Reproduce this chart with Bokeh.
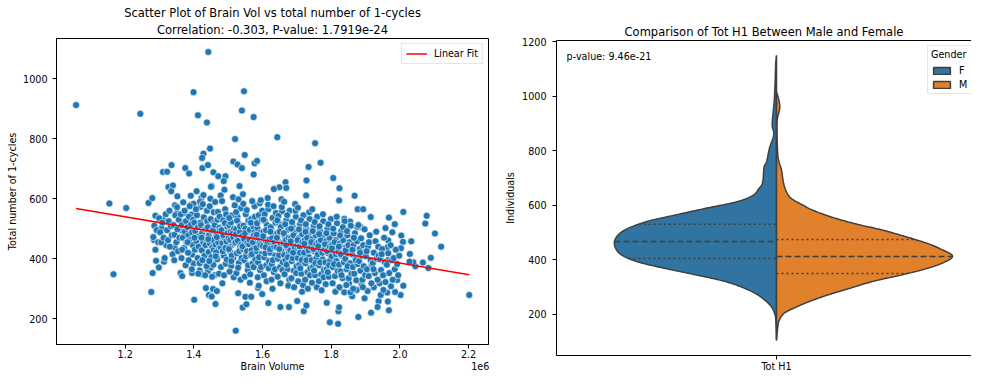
import numpy as np
from bokeh.plotting import figure
from bokeh.models import (Range1d, FixedTicker, CustomJSTickFormatter, Title, Legend,
                          LegendItem, Label, LinearAxis, ColumnDataSource)
from bokeh.layouts import row, column
from bokeh.embed import file_html
from bokeh.resources import INLINE

FONT = "DejaVu Sans"
TXT = "black"

# ---------------- scatter data (brain volume in units of 1e6, total number of 1-cycles) -------------
outlier_pts = [
    (1.442, 1089), (1.057, 912), (1.244, 883), (1.399, 955), (1.546, 958), (1.412, 878), (1.438, 854),
    (1.540, 894), (1.574, 872), (1.520, 799), (1.447, 767), (1.428, 750), (1.424, 736), (1.548, 746),
    (1.515, 724), (1.527, 714), (1.540, 702), (1.577, 718), (1.584, 726), (1.574, 681), (1.335, 712),
    (1.310, 689), (1.322, 690), (1.375, 702), (1.386, 684), (1.425, 702), (1.441, 712), (1.457, 688),
    (1.471, 675), (1.492, 675), (1.487, 659), (1.452, 642), (1.533, 642), (1.326, 639), (1.339, 644),
    (1.643, 805), (1.753, 785), (1.734, 706), (1.769, 720), (1.728, 661), (1.806, 669), (1.667, 655),
    (1.649, 638), (1.669, 636), (1.633, 632), (1.824, 635),
    (1.154, 584), (1.203, 569), (1.268, 586), (1.279, 602), (1.166, 348), (1.276, 289), (1.280, 352),
    (1.288, 543), (1.284, 462), (1.290, 393), (1.298, 371), (1.313, 390), (1.309, 462), (1.320, 445),
    (1.306, 502), (1.310, 530),
    (2.202, 279), (2.078, 543), (2.074, 517), (2.102, 484), (2.120, 440), (2.090, 403), (2.067, 387),
    (2.083, 369), (2.045, 375), (2.039, 388), (2.028, 390), (2.029, 416), (2.033, 458), (2.010, 556),
    (2.004, 477), (2.009, 456), (2.003, 435), (1.985, 515), (1.968, 537), (1.978, 488), (1.958, 502),
    (1.966, 461), (1.964, 438), (1.966, 395), (2.010, 310), (2.002, 279), (1.992, 329), (1.986, 289),
    (1.968, 228), (1.965, 257), (1.963, 287), (1.938, 258), (1.944, 279), (1.935, 239), (1.916, 220),
    (1.879, 206), (1.820, 183), (1.796, 188), (1.821, 225), (1.823, 238), (1.787, 253), (1.720, 225),
    (1.728, 244), (1.677, 239), (1.652, 239), (1.701, 259), (1.868, 610), (1.823, 594), (1.727, 611),
    (1.877, 565), (1.893, 565), (1.915, 539), (1.885, 506), (1.876, 506), (1.855, 524), (1.838, 533),
    (1.522, 160), (1.542, 237), (1.553, 248), (1.401, 263), (1.463, 249), (1.435, 302), (1.456, 299),
    (1.467, 292), (1.444, 279), (1.452, 274), (1.529, 285), (1.550, 273), (1.567, 273), (1.587, 303),
    (1.599, 282), (1.617, 252), (1.395, 352), (1.361, 352), (1.366, 342),
    (1.352, 608), (1.334, 625), (1.345, 578), (1.351, 553), (1.373, 553), (1.393, 547), (1.391, 580),
    (1.399, 583), (1.422, 602), (1.420, 573), (1.344, 437), (1.372, 435), (1.370, 477), (1.384, 453),
    (1.398, 472), (1.395, 414), (1.399, 384), (1.415, 387), (1.417, 361), (1.423, 348), (1.441, 359),
    (1.450, 371), (1.460, 345), (1.368, 520), (1.364, 495), (1.384, 509),
    (1.822, 302), (1.838, 288), (1.852, 318), (1.861, 275), (1.874, 296), (1.889, 312), (1.897, 268),
    (1.906, 292), (1.924, 305), (1.941, 318), (1.952, 296), (1.974, 308),
]

core_pts = [
    (1.282, 472), (1.285, 510), (1.288, 430), (1.292, 495), (1.296, 455), (1.299, 535),
    (1.302, 488), (1.305, 455), (1.308, 520), (1.312, 470), (1.315, 402), (1.318, 548),
    (1.322, 495), (1.325, 462), (1.327, 525), (1.330, 440), (1.333, 508), (1.336, 478), (1.338, 415), (1.329, 560),
    (1.341, 512), (1.344, 480), (1.346, 545), (1.349, 455), (1.352, 498), (1.354, 425), (1.356, 530), (1.358, 470),
    (1.343, 395), (1.351, 572),
    (1.362, 548), (1.365, 512), (1.368, 470), (1.371, 436), (1.364, 402), (1.377, 525), (1.374, 490), (1.379, 455),
    (1.369, 588), (1.376, 378), (1.373, 560), (1.366, 430),
    (1.381, 505), (1.384, 478), (1.386, 540), (1.389, 462), (1.383, 420), (1.392, 515), (1.395, 488), (1.388, 575),
    (1.397, 445), (1.385, 395), (1.391, 610), (1.398, 530), (1.394, 365), (1.382, 455),
    (1.401, 520), (1.404, 492), (1.407, 458), (1.409, 545), (1.403, 430), (1.412, 505), (1.415, 475), (1.418, 590),
    (1.411, 402), (1.406, 565), (1.414, 440), (1.417, 385), (1.419, 520), (1.402, 470), (1.408, 625), (1.413, 350),
    (1.421, 512), (1.424, 485), (1.427, 455), (1.429, 538), (1.423, 428), (1.432, 498), (1.435, 468), (1.438, 560),
    (1.431, 410), (1.426, 582), (1.434, 445), (1.437, 375), (1.439, 525), (1.422, 470), (1.428, 612), (1.433, 345),
    (1.436, 500), (1.425, 395),
    (1.441, 505), (1.444, 478), (1.447, 450), (1.449, 532), (1.443, 422), (1.452, 492), (1.455, 462), (1.458, 555),
    (1.451, 405), (1.446, 575), (1.454, 438), (1.457, 380), (1.459, 518), (1.442, 465), (1.448, 600), (1.453, 340),
    (1.456, 495), (1.445, 392), (1.450, 640), (1.458, 430),
    (1.461, 512), (1.463, 447), (1.466, 481), (1.468, 398), (1.470, 556), (1.472, 430), (1.474, 503), (1.477, 466),
    (1.479, 372), (1.462, 589), (1.465, 421), (1.469, 530), (1.471, 455), (1.473, 350), (1.476, 494), (1.478, 611),
    (1.464, 408), (1.467, 472), (1.475, 540), (1.478, 437),
    (1.481, 495), (1.483, 452), (1.485, 528), (1.487, 410), (1.489, 470), (1.491, 565), (1.493, 383), (1.495, 441),
    (1.497, 507), (1.499, 462), (1.482, 592), (1.484, 425), (1.486, 478), (1.488, 345), (1.490, 519), (1.492, 436),
    (1.494, 548), (1.496, 397), (1.498, 486), (1.483, 318), (1.489, 630), (1.495, 458),
    (1.501, 468), (1.503, 512), (1.505, 425), (1.507, 489), (1.509, 376), (1.511, 544), (1.513, 447), (1.515, 403),
    (1.517, 500), (1.519, 578), (1.502, 432), (1.504, 357), (1.506, 463), (1.508, 521), (1.510, 410), (1.512, 483),
    (1.514, 605), (1.516, 338), (1.518, 452), (1.503, 536), (1.509, 392), (1.515, 471),
    (1.521, 455), (1.523, 498), (1.525, 418), (1.527, 540), (1.529, 472), (1.531, 386), (1.533, 515), (1.535, 440),
    (1.537, 568), (1.539, 402), (1.522, 481), (1.524, 352), (1.526, 527), (1.528, 460), (1.530, 598), (1.532, 425),
    (1.534, 490), (1.536, 330), (1.538, 447), (1.523, 555), (1.529, 370), (1.535, 508),
    (1.541, 476), (1.543, 432), (1.545, 510), (1.547, 395), (1.549, 455), (1.551, 548), (1.553, 418), (1.555, 489),
    (1.557, 362), (1.559, 527), (1.542, 441), (1.544, 583), (1.546, 466), (1.548, 340), (1.550, 500), (1.552, 408),
    (1.554, 562), (1.556, 452), (1.558, 378), (1.543, 615), (1.549, 485), (1.555, 425),
    (1.561, 448), (1.563, 496), (1.565, 412), (1.567, 532), (1.569, 470), (1.571, 385), (1.573, 507), (1.575, 437),
    (1.577, 575), (1.579, 398), (1.562, 463), (1.564, 348), (1.566, 520), (1.568, 428), (1.570, 592), (1.572, 455),
    (1.574, 372), (1.576, 488), (1.578, 540), (1.563, 320), (1.569, 415), (1.575, 478),
    (1.581, 470), (1.583, 425), (1.585, 503), (1.587, 388), (1.589, 545), (1.591, 452), (1.593, 362), (1.595, 488),
    (1.597, 415), (1.599, 560), (1.582, 436), (1.584, 518), (1.586, 338), (1.588, 470), (1.590, 405), (1.592, 585),
    (1.594, 445), (1.596, 372), (1.598, 530), (1.583, 480), (1.589, 310), (1.595, 595),
    (1.601, 442), (1.603, 490), (1.605, 405), (1.607, 525), (1.609, 460), (1.611, 378), (1.613, 512), (1.615, 430),
    (1.617, 565), (1.619, 392), (1.602, 475), (1.604, 345), (1.606, 548), (1.608, 418), (1.610, 495), (1.612, 325),
    (1.614, 452), (1.616, 580), (1.618, 368), (1.603, 530), (1.609, 438), (1.615, 602),
    (1.621, 465), (1.623, 420), (1.625, 498), (1.627, 382), (1.629, 536), (1.631, 447), (1.633, 355), (1.635, 480),
    (1.637, 410), (1.639, 552), (1.622, 432), (1.624, 505), (1.626, 330), (1.628, 468), (1.630, 395), (1.632, 575),
    (1.634, 440), (1.636, 365), (1.638, 520), (1.623, 490), (1.629, 300), (1.635, 455),
    (1.641, 438), (1.643, 485), (1.645, 400), (1.647, 520), (1.649, 455), (1.651, 372), (1.653, 505), (1.655, 425),
    (1.657, 558), (1.659, 388), (1.642, 470), (1.644, 340), (1.646, 542), (1.648, 412), (1.650, 490), (1.652, 318),
    (1.654, 448), (1.656, 572), (1.658, 362), (1.643, 528), (1.649, 432), (1.655, 598),
    (1.661, 452), (1.663, 412), (1.665, 476), (1.667, 395), (1.669, 528), (1.671, 438), (1.673, 365), (1.675, 497),
    (1.677, 420), (1.679, 560), (1.662, 485), (1.664, 348), (1.666, 515), (1.668, 462), (1.670, 380), (1.672, 545),
    (1.674, 405), (1.676, 470), (1.678, 330), (1.663, 590), (1.669, 445), (1.675, 310),
    (1.681, 428), (1.683, 470), (1.685, 392), (1.687, 508), (1.689, 445), (1.691, 360), (1.693, 488), (1.695, 415),
    (1.697, 540), (1.699, 375), (1.682, 458), (1.684, 335), (1.686, 522), (1.688, 402), (1.690, 478), (1.692, 305),
    (1.694, 435), (1.696, 560), (1.698, 352), (1.683, 500), (1.689, 420), (1.695, 582),
    (1.701, 445), (1.703, 402), (1.705, 468), (1.707, 380), (1.709, 515), (1.711, 430), (1.713, 350), (1.715, 482),
    (1.717, 410), (1.719, 545), (1.702, 462), (1.704, 325), (1.706, 498), (1.708, 440), (1.710, 368), (1.712, 528),
    (1.714, 395), (1.716, 455), (1.718, 312), (1.703, 570), (1.709, 420), (1.715, 290),
    (1.721, 420), (1.723, 462), (1.725, 385), (1.727, 500), (1.729, 438), (1.731, 355), (1.733, 478), (1.735, 405),
    (1.737, 532), (1.739, 368), (1.722, 450), (1.724, 330), (1.726, 515), (1.728, 395), (1.730, 470), (1.732, 300),
    (1.734, 428), (1.736, 555), (1.738, 345), (1.725, 490),
    (1.741, 438), (1.743, 395), (1.745, 465), (1.747, 372), (1.749, 508), (1.751, 425), (1.753, 345), (1.755, 478),
    (1.757, 402), (1.759, 540), (1.742, 455), (1.744, 320), (1.746, 492), (1.748, 432), (1.750, 360), (1.752, 522),
    (1.754, 385), (1.756, 448), (1.758, 305), (1.745, 565),
    (1.761, 415), (1.763, 455), (1.765, 378), (1.767, 492), (1.769, 430), (1.771, 348), (1.773, 470), (1.775, 398),
    (1.777, 525), (1.779, 362), (1.762, 442), (1.764, 325), (1.766, 508), (1.768, 388), (1.770, 462), (1.772, 295),
    (1.774, 420), (1.776, 548), (1.778, 338), (1.765, 482),
    (1.781, 430), (1.783, 388), (1.785, 458), (1.787, 365), (1.789, 500), (1.791, 418), (1.793, 340), (1.795, 470),
    (1.797, 395), (1.799, 532), (1.782, 448), (1.784, 315), (1.786, 485), (1.788, 425), (1.790, 355), (1.792, 515),
    (1.794, 378), (1.796, 440),
    (1.801, 408), (1.803, 448), (1.805, 372), (1.807, 485), (1.809, 425), (1.811, 342), (1.813, 462), (1.815, 392),
    (1.817, 518), (1.819, 358), (1.802, 435), (1.804, 318), (1.806, 500), (1.808, 382), (1.810, 455), (1.812, 290),
    (1.814, 415), (1.816, 540),
    (1.821, 422), (1.823, 380), (1.825, 450), (1.827, 358), (1.829, 492), (1.831, 410), (1.833, 335), (1.835, 462),
    (1.837, 388), (1.839, 525), (1.822, 440), (1.824, 305), (1.826, 478), (1.828, 415), (1.830, 345), (1.834, 505),
    (1.841, 400), (1.843, 438), (1.845, 365), (1.847, 478), (1.849, 418), (1.851, 335), (1.853, 455), (1.855, 385),
    (1.857, 510), (1.859, 350), (1.842, 428), (1.844, 312), (1.846, 492), (1.848, 375), (1.850, 445), (1.856, 288),
    (1.861, 415), (1.863, 372), (1.865, 445), (1.867, 350), (1.869, 485), (1.871, 402), (1.873, 328), (1.875, 458),
    (1.877, 382), (1.879, 512), (1.862, 430), (1.864, 300), (1.866, 470), (1.872, 395),
    (1.881, 392), (1.883, 432), (1.885, 360), (1.887, 468), (1.889, 410), (1.891, 330), (1.893, 445), (1.895, 375),
    (1.897, 498), (1.899, 345), (1.884, 420), (1.892, 305),
    (1.901, 408), (1.904, 365), (1.907, 440), (1.909, 342), (1.912, 478), (1.915, 395), (1.917, 318), (1.903, 425),
    (1.910, 455), (1.918, 380),
    (1.921, 385), (1.924, 420), (1.927, 352), (1.929, 458), (1.932, 400), (1.935, 330), (1.937, 440), (1.923, 365),
    (1.931, 490), (1.938, 410),
    (1.942, 398), (1.945, 362), (1.948, 432), (1.951, 345), (1.954, 470), (1.956, 388), (1.947, 415), (1.958, 322),
    (1.962, 380), (1.966, 418), (1.969, 352), (1.973, 445), (1.977, 395), (1.979, 330),
    (1.982, 402), (1.985, 365), (1.988, 430), (1.992, 382), (1.995, 345), (1.998, 410),
]

x_ticks_1e6 = [1.2, 1.4, 1.6, 1.8, 2.0, 2.2]
y_ticks_left = [200, 400, 600, 800, 1000]

# ---------------- violin data (density profiles) ----------------
f_levels = [104, 180, 204, 227, 250, 274, 297, 321, 344, 367, 391, 414, 437, 467, 496, 519, 543, 566,
            590, 613, 636, 660, 684, 740, 760, 810, 860, 895, 965, 1000, 1060, 1120, 1151]
f_dens = [0, 0.7, 2, 5, 11, 20, 33, 52, 80, 110, 138, 154, 161, 163, 158, 147, 128, 100,
          70, 40, 24, 18, 14, 12.5, 10, 7, 2.7, 4.3, 2.7, 2, 1.3, 0.8, 0]
m_levels = [105, 133, 160, 180, 205, 227, 250, 274, 297, 321, 344, 367, 390, 414, 440, 460, 485, 509,
            530, 554, 580, 600, 625, 650, 683, 730, 760, 790, 850, 910, 935, 958, 985, 1017]
m_dens = [0, 0.7, 1.5, 3, 8, 20, 35, 54, 75, 97, 125, 150, 168, 177, 165, 152, 130, 107,
          82, 58, 38, 27, 15, 10, 7, 5, 2.5, 1.2, 0.6, 0.6, 2, 3.3, 2.5, 0]
f_quartiles = [405, 467, 531]
m_quartiles = [350, 412, 475]
y_ticks_right = [200, 400, 600, 800, 1000, 1200]

F_COLOR = "#3274a1"
M_COLOR = "#e1812c"
EDGE = "#3f3f3f"

# ---------------- layout constants ----------------
H = 374
W1 = 500
W2 = 471
MB_L1, MB_R1, MB_T1, MB_B1 = 56, 12, 38, 29
MB_L2, MB_T2, MB_B2 = 56, 40, 17


def style_axes(p, fs="9.6px"):
    for ax in p.xaxis + p.yaxis:
        ax.major_label_text_font = FONT
        ax.major_label_text_font_size = fs
        ax.major_label_text_color = TXT
        ax.axis_label_text_font = FONT
        ax.axis_label_text_font_size = fs
        ax.axis_label_text_font_style = "normal"
        ax.axis_label_text_color = TXT
        ax.major_tick_out = 4
        ax.major_tick_in = 0
        ax.minor_tick_out = 0
        ax.minor_tick_in = 0
        ax.major_tick_line_color = "black"
        ax.axis_line_color = "black"
    p.xgrid.visible = False
    p.ygrid.visible = False


# ================= LEFT: scatter =================
pts = outlier_pts + core_pts
vol = np.array([p[0] for p in pts]) * 1e6
h1 = np.array([p[1] for p in pts], dtype=float)
src = ColumnDataSource(dict(x=vol, y=h1))

slope, intercept = np.polyfit(vol, h1, 1)
xfit = np.array([vol.min(), vol.max()])
yfit = slope * xfit + intercept

X1 = (1.0e6, 2.258e6)
Y1 = (114, 1134)
p1 = figure(width=W1, height=H, output_backend="svg", toolbar_location=None,
            x_range=Range1d(*X1), y_range=Range1d(*Y1),
            min_border_left=MB_L1, min_border_right=MB_R1, min_border_top=MB_T1, min_border_bottom=MB_B1)
p1.outline_line_color = "black"
p1.outline_line_width = 1
p1.title.visible = False
p1.add_layout(Title(text="Correlation: -0.303, P-value: 1.7919e-24", align="center",
                    text_font=FONT, text_font_size="11.5px", text_font_style="normal",
                    text_color=TXT, standoff=3), "above")
p1.add_layout(Title(text="Scatter Plot of Brain Vol vs total number of 1-cycles", align="center",
                    text_font=FONT, text_font_size="11.5px", text_font_style="normal",
                    text_color=TXT, standoff=0), "above")

p1.scatter("x", "y", source=src, size=7, fill_color="#1f77b4", line_color="white", line_width=0.6)
fit_r = p1.line(xfit, yfit, line_color="red", line_width=1.5)

style_axes(p1)
ax1 = p1.xaxis[0]
ax1.ticker = FixedTicker(ticks=[t * 1e6 for t in x_ticks_1e6])
ax1.formatter = CustomJSTickFormatter(code="return (tick/1e6).toFixed(1);")
ax1.major_label_standoff = 1
p1.yaxis.ticker = FixedTicker(ticks=y_ticks_left)
p1.yaxis.axis_label = "Total number of 1-cycles"
p1.yaxis.major_label_standoff = 5
p1.yaxis.axis_label_standoff = 2

# second (label-only) row under the x axis: axis title in the middle, offset text "1e6" at the right
x_mid = 0.5 * (X1[0] + X1[1])
x_off = X1[0] + (X1[1] - X1[0]) * 0.981
ax_lab = LinearAxis(ticker=FixedTicker(ticks=[x_mid, x_off]),
                    major_label_overrides={x_mid: "Brain Volume", x_off: "1e6"},
                    major_tick_out=0, major_tick_in=0, minor_tick_out=0, minor_tick_in=0,
                    major_label_standoff=0, axis_line_color=None, major_tick_line_color=None,
                    major_label_text_font=FONT, major_label_text_font_size="9.6px",
                    major_label_text_color=TXT)
p1.add_layout(ax_lab, "below")

leg1 = Legend(items=[LegendItem(label="Linear Fit", renderers=[fit_r])], location="top_right",
              label_text_font=FONT, label_text_font_size="9.6px", label_text_color=TXT,
              glyph_width=21, glyph_height=11, label_height=11, label_standoff=7,
              padding=4, margin=5, spacing=0, border_line_color="#cccccc",
              background_fill_alpha=0.8)
p1.add_layout(leg1, "center")


# ================= RIGHT: split violin =================
def catmull_rom(xs, ys, n=10):
    P = np.column_stack([xs, ys]).astype(float)
    out = []
    for i in range(len(P) - 1):
        p0 = P[i - 1] if i > 0 else P[i]
        p1_ = P[i]
        p2 = P[i + 1]
        p3 = P[i + 2] if i + 2 < len(P) else P[i + 1]
        for t in np.linspace(0, 1, n, endpoint=False):
            t2, t3 = t * t, t * t * t
            pt = 0.5 * ((2 * p1_) + (-p0 + p2) * t + (2 * p0 - 5 * p1_ + 4 * p2 - p3) * t2
                        + (-p0 + 3 * p1_ - 3 * p2 + p3) * t3)
            out.append(pt)
    out.append(P[-1])
    out = np.array(out)
    out[:, 1] = np.clip(out[:, 1], 0, None)
    return out[:, 0], out[:, 1]


scale = 0.4 / max(max(f_dens), max(m_dens))
fy, fw = catmull_rom(f_levels, f_dens)
my, mw = catmull_rom(m_levels, m_dens)
fw = fw * scale
mw = mw * scale

frame_w2 = W2 - MB_L2
x_right = -0.5 + frame_w2 / 440.0
frame_h2 = H - MB_T2 - MB_B2

p2 = figure(width=W2, height=H, output_backend="svg", toolbar_location=None,
            x_range=Range1d(-0.5, x_right), y_range=Range1d(49, 1205),
            min_border_left=MB_L2, min_border_right=0, min_border_top=MB_T2, min_border_bottom=MB_B2)
p2.outline_line_color = None
p2.title.text = "Comparison of Tot H1 Between Male and Female"
p2.title.text_font = FONT
p2.title.text_font_size = "11.5px"
p2.title.text_font_style = "normal"
p2.title.text_color = TXT
p2.title.align = "center"
p2.title.standoff = 3

f_patch = p2.patch(np.concatenate([-fw, [0, 0]]), np.concatenate([fy, [fy[-1], fy[0]]]),
                   fill_color=F_COLOR, line_color=EDGE, line_width=1.5)
m_patch = p2.patch(np.concatenate([mw, [0, 0]]), np.concatenate([my, [my[-1], my[0]]]),
                   fill_color=M_COLOR, line_color=EDGE, line_width=1.5)

for qi, q in enumerate(f_quartiles):
    w = np.interp(q, fy, fw)
    p2.line([-w, 0], [q, q], line_color=EDGE, line_width=1.5,
            line_dash="6 3" if qi == 1 else "2 3")
for qi, q in enumerate(m_quartiles):
    w = np.interp(q, my, mw)
    p2.line([0, w], [q, q], line_color=EDGE, line_width=1.5,
            line_dash="6 3" if qi == 1 else "2 3")

style_axes(p2)
p2.xaxis.ticker = FixedTicker(ticks=[0])
p2.xaxis.major_label_overrides = {0: "Tot H1"}
p2.xaxis.major_label_standoff = 1
p2.yaxis.ticker = FixedTicker(ticks=y_ticks_right)
p2.yaxis.axis_label = "Individuals"
p2.yaxis.major_label_standoff = 6
p2.yaxis.axis_label_standoff = 3

top_ax = LinearAxis(ticker=FixedTicker(ticks=[]), major_tick_out=0, major_tick_in=0,
                    minor_tick_out=0, minor_tick_in=0, major_label_text_font_size="0px",
                    major_label_standoff=0, axis_line_color="black")
p2.add_layout(top_ax, "above")

p2.add_layout(Label(x=-0.477, y=1145, text="p-value: 9.46e-21", text_align="left",
                    text_baseline="middle", text_font=FONT, text_font_size="9.6px",
                    text_color=TXT))

LEG2_H = 50
leg2 = Legend(items=[LegendItem(label="F", renderers=[f_patch]), LegendItem(label="M", renderers=[m_patch])],
              location=(frame_w2 - 44, frame_h2 - 6 - LEG2_H), title="Gender",
              title_text_font=FONT, title_text_font_size="9.6px", title_text_font_style="normal",
              title_text_color=TXT, title_standoff=4,
              label_text_font=FONT, label_text_font_size="9.6px", label_text_color=TXT,
              glyph_width=21, glyph_height=9, label_height=12, label_standoff=7,
              padding=3, margin=0, spacing=2, border_line_color="#cccccc",
              background_fill_alpha=0.8)
p2.add_layout(leg2, "center")

layout = row(column(p1), column(p2))
open("out.html", "w").write(file_html(layout, INLINE))
